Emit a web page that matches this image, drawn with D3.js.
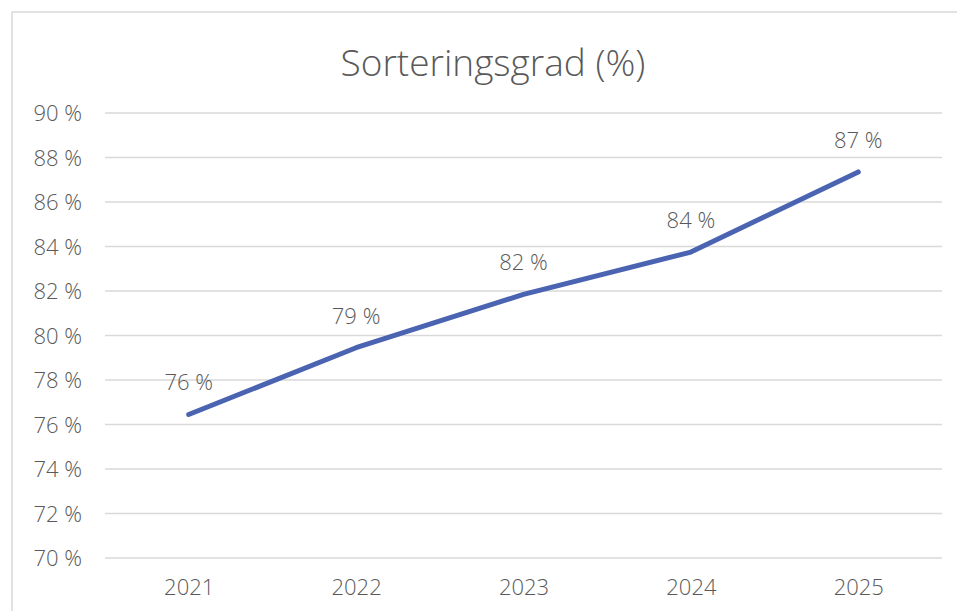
<!DOCTYPE html>
<meta charset="utf-8">
<style>
    body { margin: 0; background: #fff; }
    text { font-family: "Open Sans", "Noto Sans", sans-serif; font-weight: 300; fill: #595959; }
    .title { font-size: 37px; }
    .tick text { font-size: 22px; }
    .lbl { font-size: 22px; }
</style>
<svg width="957" height="611"></svg>
<script src="https://cdn.jsdelivr.net/npm/d3@7"></script>
<script>

    var years = ["2021", "2022", "2023", "2024", "2025"];
    var values = [76.45, 79.45, 81.85, 83.75, 87.35];
    var yTicks = [70, 72, 74, 76, 78, 80, 82, 84, 86, 88, 90];

    var svg = d3.select("svg");

    // chart frame
    svg.append("rect")
        .attr("x", 12).attr("y", 12)
        .attr("width", 960).attr("height", 620)
        .attr("fill", "none")
        .attr("stroke", "#d9d9d9")
        .attr("stroke-width", 1.5);

    svg.append("text")
        .attr("class", "title")
        .attr("x", 493).attr("y", 76)
        .attr("text-anchor", "middle")
        .text("Sorteringsgrad (%)");

    var x = d3.scalePoint().domain(years).range([105, 942]).padding(0.5);
    var y = d3.scaleLinear().domain([70, 90]).range([558, 113]);

    // gridlines
    svg.append("g").selectAll("line")
        .data(yTicks)
        .enter().append("line")
        .attr("x1", 105).attr("x2", 942)
        .attr("y1", function(d) { return y(d); })
        .attr("y2", function(d) { return y(d); })
        .attr("stroke", "#d9d9d9")
        .attr("stroke-width", 1.5);

    var yAxis = svg.append("g")
        .attr("transform", "translate(82,0)")
        .call(d3.axisLeft(y).tickValues(yTicks).tickSize(0).tickPadding(0)
            .tickFormat(function(d) { return d + "\u00a0%"; }));
    yAxis.select(".domain").remove();
    yAxis.selectAll(".tick text").attr("dy", "0.35em");

    var xAxis = svg.append("g")
        .attr("transform", "translate(0,558)")
        .call(d3.axisBottom(x).tickSize(0).tickPadding(21));
    xAxis.select(".domain").remove();

    var line = d3.line()
        .x(function(d, i) { return x(years[i]); })
        .y(function(d) { return y(d); });

    svg.append("path")
        .datum(values)
        .attr("d", line)
        .attr("fill", "none")
        .attr("stroke", "#4a64b1")
        .attr("stroke-width", 5)
        .attr("stroke-linecap", "round")
        .attr("stroke-linejoin", "round");

    svg.append("g").selectAll("text")
        .data(values)
        .enter().append("text")
        .attr("class", "lbl")
        .attr("x", function(d, i) { return x(years[i]); })
        .attr("y", function(d) { return y(d) - 24; })
        .attr("text-anchor", "middle")
        .text(function(d) { return Math.round(d) + "\u00a0%"; });
</script>
